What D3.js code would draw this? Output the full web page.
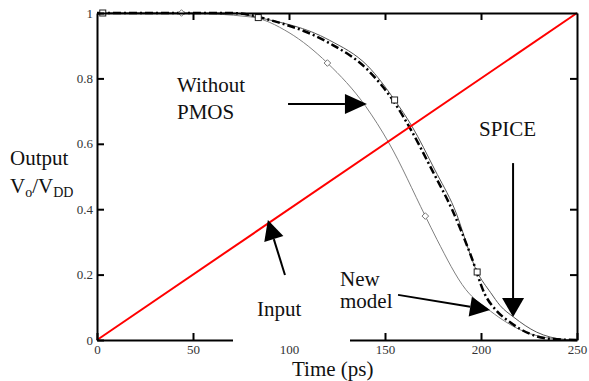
<!DOCTYPE html>
<html>
<head>
<meta charset="utf-8">
<script src="https://cdn.jsdelivr.net/npm/d3@7"></script>
<style>
  body { margin: 0; background: #fff; }
  svg text { font-family: "Liberation Serif", "Tinos", "DejaVu Serif", serif !important; }
</style>
</head>
<body>
<svg id="chart" width="589" height="381"></svg>
<script>
// input ramp
const inputT = [0, 250];
const inputV = [0, 1];

// without PMOS (gray, diamonds)
const noPmosT = [0, 44, 80, 100, 120, 140, 152, 171, 177, 192, 205, 222, 238, 250];
const noPmosV = [1, 1, 0.988, 0.94, 0.847, 0.714, 0.603, 0.379, 0.308, 0.155, 0.088, 0.027, 0.004, 0];
const diamondT = [44, 120, 171];
const diamondV = [1, 0.847, 0.379];

// new model (dash-dot)
const newT = [0, 70, 94, 121, 141, 154, 163, 175, 185, 195, 202, 208, 215, 225, 235, 250];
const newV = [1, 1, 0.972, 0.908, 0.826, 0.734, 0.648, 0.514, 0.398, 0.254, 0.14, 0.09, 0.055, 0.02, 0.004, 0];

// SPICE (thin line, squares)
const spiceT = [0, 70, 84, 121, 141, 155, 164, 176, 186, 198, 205, 210, 217, 229, 243, 250];
const spiceV = [1, 1, 0.986, 0.917, 0.838, 0.734, 0.654, 0.52, 0.404, 0.208, 0.145, 0.105, 0.07, 0.024, 0.002, 0];
const squareT = [3, 84, 155, 198];
const squareV = [1, 0.986, 0.734, 0.208];

const xTicks = [0, 50, 100, 150, 200, 250];
const yTicks = [0, 0.2, 0.4, 0.6, 0.8, 1];

const svg = d3.select('#chart');
const x = d3.scaleLinear().domain([0, 250]).range([97, 577]);
const y = d3.scaleLinear().domain([0, 1]).range([340, 13]);

const zip = (ts, vs) => ts.map((t, i) => [t, vs[i]]);
const line = d3.line().x(d => x(d[0])).y(d => y(d[1])).curve(d3.curveMonotoneX);

// curves
svg.append('path').attr('d', line(zip(noPmosT, noPmosV)))
  .attr('fill', 'none').attr('stroke', '#808080').attr('stroke-width', 1);
svg.append('path').attr('d', line(zip(spiceT, spiceV)))
  .attr('fill', 'none').attr('stroke', '#555').attr('stroke-width', 1);
svg.append('path').attr('d', line(zip(newT, newV)))
  .attr('fill', 'none').attr('stroke', '#000').attr('stroke-width', 2.5)
  .attr('stroke-dasharray', '8,3,2,3');

// markers
svg.selectAll('.dia').data(zip(diamondT, diamondV)).enter().append('path')
  .attr('class', 'dia')
  .attr('d', d3.symbol(d3.symbolDiamond2, 28))
  .attr('transform', d => 'translate(' + x(d[0]) + ',' + y(d[1]) + ')')
  .attr('fill', '#fff').attr('stroke', '#777').attr('stroke-width', 1);
svg.selectAll('.sq').data(zip(squareT, squareV)).enter().append('rect')
  .attr('class', 'sq')
  .attr('x', d => x(d[0]) - 3).attr('y', d => y(d[1]) - 3)
  .attr('width', 6).attr('height', 6)
  .attr('fill', '#fff').attr('stroke', '#222').attr('stroke-width', 1);

// input ramp
svg.append('path').attr('d', d3.line().x(d => x(d[0])).y(d => y(d[1]))(zip(inputT, inputV)))
  .attr('fill', 'none').attr('stroke', '#f00').attr('stroke-width', 2);

// axes
function styleAxis(g) {
  g.attr('font-family', null);
  g.select('.domain').attr('stroke', '#000').attr('stroke-width', 2);
  g.selectAll('.tick line').attr('stroke', '#000').attr('stroke-width', 2);
  g.selectAll('.tick text').attr('fill', '#333').attr('font-size', 13);
}
svg.append('g').attr('transform', 'translate(0,340)')
  .call(d3.axisBottom(x).tickValues(xTicks).tickSize(-7).tickSizeOuter(0).tickPadding(5))
  .call(styleAxis);
svg.append('g').attr('transform', 'translate(0,13)')
  .call(d3.axisTop(x).tickValues([50, 100, 150, 200]).tickSize(-7).tickSizeOuter(0).tickFormat(''))
  .call(styleAxis);
svg.append('g').attr('transform', 'translate(97,0)')
  .call(d3.axisLeft(y).tickValues(yTicks).tickSize(-7).tickSizeOuter(0).tickPadding(4)
    .tickFormat(d => String(+d.toFixed(1))))
  .call(styleAxis);
svg.append('g').attr('transform', 'translate(577,0)')
  .call(d3.axisRight(y).tickValues([0.2, 0.4, 0.8]).tickSize(-7).tickSizeOuter(0).tickFormat(''))
  .call(styleAxis);

// gap in the bottom axis around 100
svg.append('rect').attr('x', 233).attr('y', 331).attr('width', 117).attr('height', 11).attr('fill', '#fff');

// arrows
function arrow(t0, v0, t1, v1, len, half) {
  const x0 = x(t0), y0 = y(v0), x1 = x(t1), y1 = y(v1);
  const dx = x1 - x0, dy = y1 - y0, d = Math.hypot(dx, dy);
  const ux = dx / d, uy = dy / d;
  const bx = x1 - ux * len, by = y1 - uy * len;
  svg.append('line').attr('x1', x0).attr('y1', y0).attr('x2', bx).attr('y2', by)
    .attr('stroke', '#000').attr('stroke-width', 2);
  svg.append('polygon')
    .attr('points', [[x1, y1], [bx - uy * half, by + ux * half], [bx + uy * half, by - ux * half]].join(' '))
    .attr('fill', '#000');
}
arrow(99.5, 0.722, 140.6, 0.722, 22, 10);   // without PMOS
arrow(216.7, 0.541, 216.7, 0.07, 19, 11);   // SPICE
arrow(156.8, 0.138, 204.7, 0.092, 20, 10);  // new model
arrow(97.9, 0.199, 89, 0.367, 20, 10);      // input

// text labels
const lab = (tx, ty, s) => svg.append('text').attr('x', tx).attr('y', ty)
  .attr('font-size', 21).attr('fill', '#111').text(s);
lab(177, 92, 'Without');
lab(177, 119, 'PMOS');
lab(479, 136, 'SPICE');
lab(257, 316, 'Input');
lab(340, 286, 'New');
lab(340, 308, 'model');
lab(292, 376, 'Time (ps)');
lab(10, 165, 'Output');

const vl = svg.append('text').attr('x', 10).attr('y', 193).attr('font-size', 21).attr('fill', '#111');
vl.append('tspan').text('V');
vl.append('tspan').attr('font-size', 14).attr('dy', 4).text('o');
vl.append('tspan').attr('dy', -4).text('/V');
vl.append('tspan').attr('font-size', 14).attr('dy', 4).text('DD');
</script>
</body>
</html>
